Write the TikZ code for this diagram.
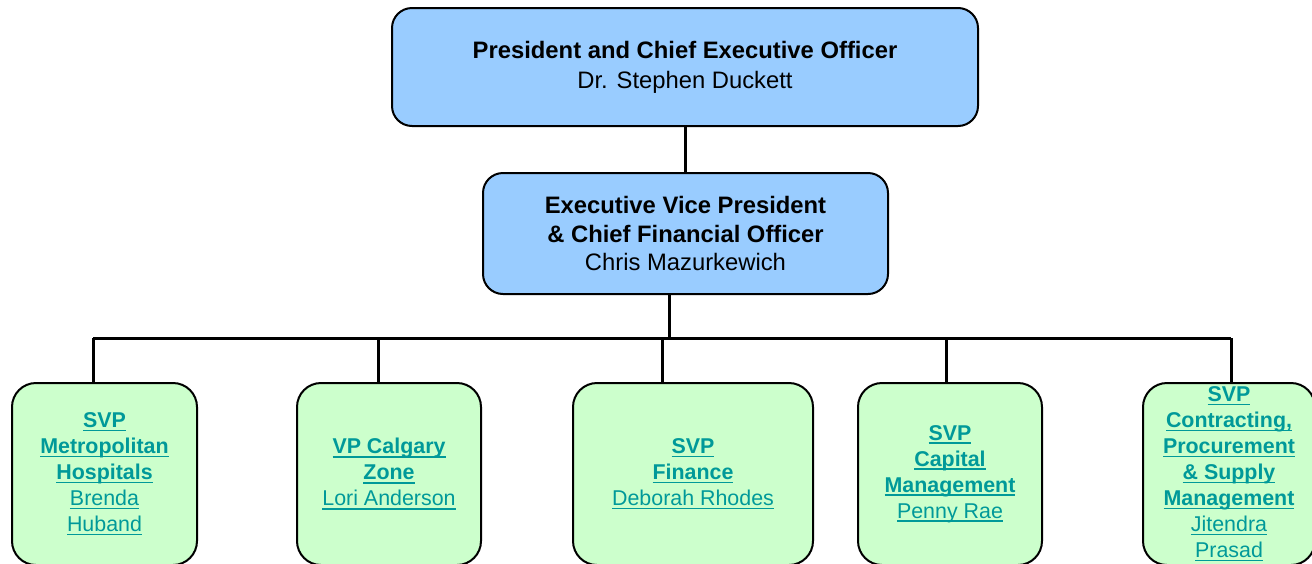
\documentclass[tikz,border=0pt]{standalone}
\usepackage{fontspec}
\setmainfont{Liberation Sans}
\usetikzlibrary{positioning}
\definecolor{headblue}{HTML}{99CCFF}
\definecolor{unitgreen}{HTML}{CCFFCC}
\definecolor{linkteal}{HTML}{009999}
\newsavebox{\lnkbox}
\newcommand{\lnk}[1]{\sbox{\lnkbox}{#1}%
  \raisebox{-1pt}{\rlap{\rule[-1.9pt]{\wd\lnkbox}{0.8pt}}\usebox{\lnkbox}}}
\newcommand{\blnk}[1]{\lnk{\textbf{#1}}}
\newcommand{\lowr}[1]{\raisebox{-2pt}{#1}}

\begin{document}
\begin{tikzpicture}[x=0.5pt, y=-0.5pt,
    headbox/.style = {draw, line width=1pt, fill=headblue,
      rounded corners=10pt, align=center, inner sep=0pt},
    unitbox/.style = {draw, line width=1pt, fill=unitgreen,
      rounded corners=12pt, align=center, inner sep=0pt,
      minimum height=91pt, text=linkteal,
      font=\fontsize{10.7}{13}\selectfont},
    wire/.style = {line width=1.5pt},
  ]
    \useasboundingbox (0,0) rectangle (1312,563);

    % heads
    \node (ceo) [headbox, minimum width=293pt, minimum height=59pt,
      font=\fontsize{11.9}{15}\selectfont] at (685,67)
      {\lowr{\textbf{President and Chief Executive Officer}}\\\lowr{Dr. Stephen Duckett}};
    \node (cfo) [headbox, minimum width=202.5pt, minimum height=60.5pt,
      font=\fontsize{11.9}{14.3}\selectfont] at (685.5,233.5)
      {\textbf{Executive Vice President}\\\textbf{\& Chief Financial Officer}\\Chris Mazurkewich};

    % units
    \node (metro) [unitbox, minimum width=92.5pt] at (104.5,474)
      {\blnk{SVP}\\\blnk{Metropolitan}\\\blnk{Hospitals}\\\lnk{Brenda}\\\lnk{Huband}};
    \node (calgary) [unitbox, minimum width=92pt] at (389,474)
      {\blnk{VP Calgary}\\\blnk{Zone}\\\lnk{Lori Anderson}};
    \node (finance) [unitbox, minimum width=120pt] at (693,474)
      {\blnk{SVP}\\\blnk{Finance}\\\lnk{Deborah Rhodes}};
    \node (capital) [unitbox, minimum width=92pt] at (950,474)
      {\blnk{SVP}\\\blnk{Capital}\\\blnk{Management}\\\lnk{Penny Rae}};
    \node (procure) [unitbox, minimum width=86pt] at (1229,474)
      {\blnk{SVP}\\\blnk{Contracting,}\\\blnk{Procurement}\\\blnk{\& Supply}\\\blnk{Management}\\\lnk{Jitendra}\\\lnk{Prasad}};

    % wiring
    \coordinate (busL) at (93,338);
    \coordinate (busR) at (1231,338);
    \coordinate (busC) at (669,338);
    \draw [wire] (ceo.south) -- (cfo.north -| ceo.south);
    \draw [wire] (cfo.south -| busC) -- (busC);
    \draw [wire] (busL) -- (busR);
    \foreach \unit/\xx in {metro/93, calgary/378, finance/662, capital/946, procure/1231}
      \draw [wire] (\xx,338) -- (\unit.north -| \xx,338);
\end{tikzpicture}
\end{document}
